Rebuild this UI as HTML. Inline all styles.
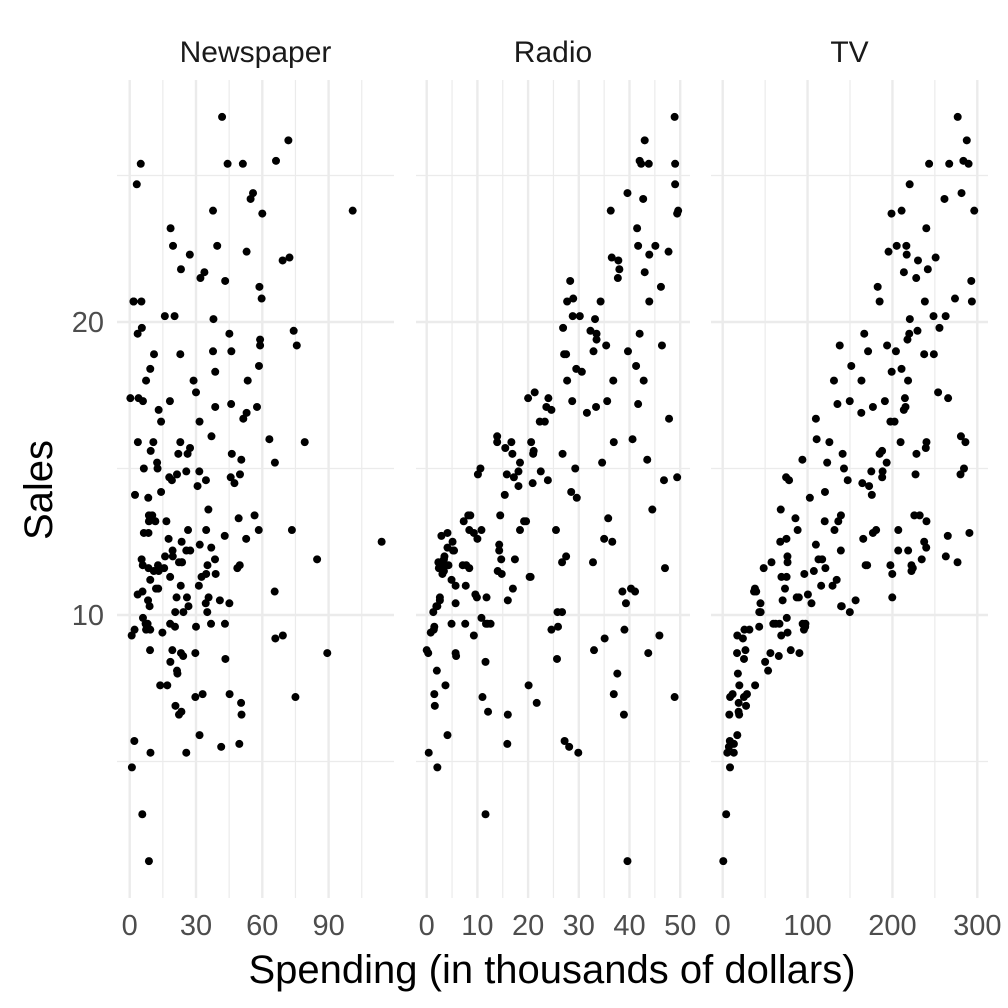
<!DOCTYPE html>
<html><head><meta charset="utf-8"><style>
body{margin:0;background:#fff}
svg{display:block;font-family:"Liberation Sans",sans-serif}
</style></head><body>
<svg id="chart" width="1008" height="1008" viewBox="0 0 1008 1008"></svg>
<script>
const tv=[230.1,44.5,17.2,151.5,180.8,8.7,57.5,120.2,8.6,199.8,66.1,214.7,23.8,97.5,204.1,195.4,67.8,281.4,69.2,147.3,218.4,237.4,13.2,228.3,62.3,262.9,142.9,240.1,248.8,70.6,292.9,112.9,97.2,265.6,95.7,290.7,266.9,74.7,43.1,228,202.5,177,293.6,206.9,25.1,175.1,89.7,239.9,227.2,66.9,199.8,100.4,216.4,182.6,262.7,198.9,7.3,136.2,210.8,210.7,53.5,261.3,239.3,102.7,131.1,69,31.5,139.3,237.4,216.8,199.1,109.8,26.8,129.4,213.4,16.9,27.5,120.5,5.4,116,76.4,239.8,75.3,68.4,213.5,193.2,76.3,110.7,88.3,109.8,134.3,28.6,217.7,250.9,107.4,163.3,197.6,184.9,289.7,135.2,222.4,296.4,280.2,187.9,238.2,137.9,25,90.4,13.1,255.4,225.8,241.7,175.7,209.6,78.2,75.1,139.2,76.4,125.7,19.4,141.3,18.8,224,123.1,229.5,87.2,7.8,80.2,220.3,59.6,0.7,265.2,8.4,219.8,36.9,48.3,25.6,273.7,43,184.9,73.4,193.7,220.5,104.6,96.2,140.3,240.1,243.2,38,44.7,280.7,121,197.6,171.3,187.8,4.1,93.9,149.8,11.7,131.7,172.5,85.7,188.4,163.5,117.2,234.5,17.9,206.8,215.4,284.3,50,164.5,19.6,168.4,222.4,276.9,248.4,170.2,276.7,165.6,156.6,218.5,56.2,287.6,253.8,205,139.5,191.1,286,18.7,39.5,75.5,17.2,166.8,149.7,38.2,94.2,177,283.6,232.1];
const radio=[37.8,39.3,45.9,41.3,10.8,48.9,32.8,19.6,2.1,2.6,5.8,24,35.1,7.6,32.9,47.7,36.6,39.6,20.5,23.9,27.7,5.1,15.9,16.9,12.6,3.5,29.3,16.7,27.1,16,28.3,17.4,1.5,20,1.4,4.1,43.8,49.4,26.7,37.7,22.3,33.4,27.7,8.4,25.7,22.5,9.9,41.5,15.8,11.7,3.1,9.6,41.7,46.2,28.8,49.4,28.1,19.2,49.6,29.5,2,42.7,15.5,29.6,42.8,9.3,24.6,14.5,27.5,43.9,30.6,14.3,33,5.7,24.6,43.7,1.6,28.5,29.9,7.7,26.7,4.1,20.3,44.5,43,18.4,27.5,40.6,25.5,47.8,4.9,1.5,33.5,36.5,14,31.6,3.5,21,42.3,41.7,4.3,36.3,10.1,17.2,34.3,46.4,11,0.3,0.4,26.9,8.2,38,15.4,20.6,46.8,35,14.3,0.8,36.9,16,26.8,21.7,2.4,34.6,32.3,11.8,38.9,0,49,12,39.6,2.9,27.2,33.5,38.6,47,39,28.9,25.9,43.9,17,35.4,33.2,5.7,14.8,1.9,7.3,49,40.3,25.8,13.9,8.4,23.3,39.7,21.1,11.6,43.5,1.3,36.9,18.4,18.1,35.8,18.1,36.8,14.7,3.4,37.6,5.2,23.6,10.6,11.6,20.9,20.1,7.1,3.4,48.9,30.2,7.8,2.3,10,2.6,5.4,5.7,43,21.3,45.1,2.1,28.7,13.9,12.1,41.1,10.8,4.1,42,35.6,3.7,4.9,9.3,42,8.6];
const newspaper=[69.2,45.1,69.3,58.5,58.4,75,23.5,11.6,1,21.2,24.2,4,65.9,7.2,46,52.9,114,55.8,18.3,19.1,53.4,23.5,49.6,26.2,18.3,19.5,12.6,22.9,22.9,40.8,43.2,38.6,30,0.3,7.4,8.5,5,45.7,35.1,32,31.6,38.7,1.8,26.4,43.3,31.5,35.7,18.5,49.9,36.8,34.6,3.6,39.6,58.7,15.9,60,41.4,16.6,37.7,9.3,21.4,54.7,27.3,8.4,28.9,0.9,2.2,10.2,11,27.2,38.7,31.7,19.3,31.3,13.1,89.4,20.7,14.2,9.4,23.1,22.3,36.9,32.5,35.6,33.8,65.7,16,63.2,73.4,51.4,9.3,33,59,72.3,10.9,52.9,5.9,22,51.2,45.9,49.8,100.9,21.4,17.9,5.3,59,29.7,23.2,25.6,5.5,56.5,23.2,2.4,10.7,34.5,52.7,25.6,14.8,79.2,22.3,46.2,50.4,15.6,12.4,74.2,25.9,50.6,9.2,3.2,43.1,8.7,43,2.1,45.1,65.6,8.5,9.3,59.7,20.5,1.7,12.9,75.6,37.9,34.4,38.9,9,8.7,44.3,11.9,20.6,37,48.7,14.2,37.7,9.5,5.7,50.5,24.3,45.2,34.6,30.7,49.3,25.6,7.4,5.4,84.8,21.6,19.4,57.6,6.4,18.4,47.4,17,12.8,13.1,41.8,20.3,35.2,23.7,17.6,8.3,27.4,29.7,71.8,30,19.6,26.6,18.2,3.7,23.4,5.8,6,31.6,3.6,6,13.8,8.1,6.4,66.2,8.7];
const sales=[22.1,10.4,9.3,18.5,12.9,7.2,11.8,13.2,4.8,10.6,8.6,17.4,9.2,9.7,19,22.4,12.5,24.4,11.3,14.6,18,12.5,5.6,15.5,9.7,12,15,15.9,18.9,10.5,21.4,11.9,9.6,17.4,9.5,12.8,25.4,14.7,10.1,21.5,16.6,17.1,20.7,12.9,8.5,14.9,10.6,23.2,14.8,9.7,11.4,10.7,22.6,21.2,20.2,23.7,5.5,13.2,23.8,18.4,8.1,24.2,15.7,14,18,9.3,9.5,13.4,18.9,22.3,18.3,12.4,8.8,11,17,8.7,6.9,14.2,5.3,11,11.8,12.3,11.3,13.6,21.7,15.2,12,16,12.9,16.7,11.2,7.3,19.4,22.2,11.5,16.9,11.7,15.5,25.4,17.2,11.7,23.8,14.8,14.7,20.7,19.2,7.2,8.7,5.3,19.8,13.4,21.8,14.1,15.9,14.6,12.6,12.2,9.4,15.9,6.6,15.5,7,11.6,15.2,19.7,10.6,6.6,8.8,24.7,9.7,1.6,12.7,5.7,19.6,10.8,11.6,9.5,20.8,9.6,20.7,10.9,19.2,20.1,10.4,11.4,10.3,13.2,25.4,10.9,10.1,16.1,11.6,16.6,19,15.6,3.2,15.3,10.1,7.3,12.9,14.4,13.3,14.9,18,11.9,11.9,8,12.2,17.1,15,8.4,14.5,7.6,11.7,11.5,27,20.2,11.7,11.8,12.6,10.5,12.2,8.7,26.2,17.6,22.6,10.3,17.3,15.9,6.7,10.8,9.9,5.9,19.6,17.3,7.6,9.7,12.8,25.5,13.4];
const panelNames=["Newspaper","Radio","TV"];
const newspaperTicks=[0,30,60,90];
const radioTicks=[0,10,20,30,40,50];
const tvTicks=[0,100,200,300];
const yTicks=[10,20];

const NS="http://www.w3.org/2000/svg";
const svg=document.getElementById('chart');
function mk(tag,attrs,parent){const e=document.createElementNS(NS,tag);for(const k in attrs)e.setAttribute(k,attrs[k]);(parent||svg).appendChild(e);return e;}
const yTop=80,yBot=898;
function ys(v){return 615-(v-10)*29.3;}
const panels=[
 {name:panelNames[0],x0:117,x1:394,o:129.7,k:2.21,ticks:newspaperTicks,data:newspaper},
 {name:panelNames[1],x0:416,x1:690,o:426.7,k:5.07,ticks:radioTicks,data:radio},
 {name:panelNames[2],x0:711,x1:988,o:722.7,k:0.8487,ticks:tvTicks,data:tv}
];
panels.forEach((p,pi)=>{
  const g=mk('g',{});
  
  
  const xs=v=>p.o+v*p.k;
  [5,15,25].forEach(v=>{const l=mk('line',{x1:p.x0,x2:p.x1,y1:ys(v),y2:ys(v),stroke:'#ebebeb','stroke-width':1.2},g);
    });
  yTicks.forEach(v=>{const l=mk('line',{x1:p.x0,x2:p.x1,y1:ys(v),y2:ys(v),stroke:'#ebebeb','stroke-width':2.4},g);
    });
  const step=p.ticks[1]-p.ticks[0];
  const xmax=(p.x1-p.o)/p.k;
  for(let v=step/2;v<=xmax;v+=step){const l=mk('line',{x1:xs(v),x2:xs(v),y1:yTop,y2:yBot,stroke:'#ebebeb','stroke-width':1.2},g);
    }
  p.ticks.forEach(v=>{const l=mk('line',{x1:xs(v),x2:xs(v),y1:yTop,y2:yBot,stroke:'#ebebeb','stroke-width':2.4},g);
    
    const t=mk('text',{x:xs(v),y:935,'text-anchor':'middle','font-size':29,fill:'#4d4d4d'},g);t.textContent=v;
    });
  const st=mk('text',{x:(p.x0+p.x1)/2,y:62,'text-anchor':'middle','font-size':30,fill:'#1a1a1a'},g);st.textContent=p.name;
  
  p.data.forEach((v,i)=>{const c=mk('circle',{cx:xs(v),cy:ys(sales[i]),r:4,fill:'#000'},g);
    });
});
yTicks.forEach(v=>{const t=mk('text',{x:104,y:ys(v)+10,'text-anchor':'end','font-size':29,fill:'#4d4d4d'});t.textContent=v;
  });
const yt=mk('text',{x:0,y:0,transform:'translate(52,490) rotate(-90)','text-anchor':'middle','font-size':40,fill:'#000'});yt.textContent='Sales';

const xt=mk('text',{x:552,y:983,'text-anchor':'middle','font-size':40,fill:'#000'});xt.textContent='Spending (in thousands of dollars)';

</script>
</body></html>
